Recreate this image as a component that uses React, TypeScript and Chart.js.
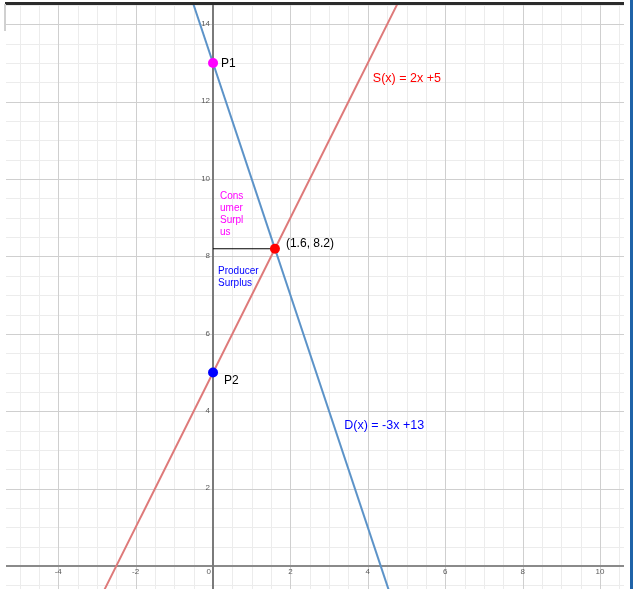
import { useEffect, useRef } from "react";
import { Chart, registerables } from "chart.js";

Chart.register(...registerables);

// Supply S(x) = 2x + 5, given by two points on the line
const supplyX = [-4, 6];
const supplyY = [-3, 17];

// Demand D(x) = -3x + 13, given by two points on the line
const demandX = [-1, 5];
const demandY = [16, -2];

// Marked points: P1, P2 and the equilibrium
const markX = [0, 0, 1.6];
const markY = [13, 5, 8.2];
const markColors = ["#ff00ff", "#0000ff", "#ff0000"];

// Horizontal segment from the price axis to the equilibrium
const priceLineX = [0, 1.6];
const priceLineY = [8.2, 8.2];

// Axis tick labels
const xTickValues = [-4, -2, 0, 2, 4, 6, 8, 10];
const yTickValues = [2, 4, 6, 8, 10, 12, 14];

const X_MIN = -5.35;
const X_MAX = 10.62;
const Y_MIN = -0.594;
const Y_MAX = 14.5;

type Note = {
  lines: string[];
  x: number;
  y: number;
  dx: number;
  dy: number;
  color: string;
  size: number;
  lineHeight: number;
};

const notes: Note[] = [
  { lines: ["P1"], x: markX[0], y: markY[0], dx: 8, dy: 1, color: "#000000", size: 12, lineHeight: 12 },
  { lines: ["P2"], x: markX[1], y: markY[1], dx: 11, dy: 8, color: "#000000", size: 12, lineHeight: 12 },
  { lines: ["(1.6, 8.2)"], x: markX[2], y: markY[2], dx: 11, dy: -5, color: "#000000", size: 12, lineHeight: 12 },
  { lines: ["S(x) = 2x +5"], x: 4.13, y: 12.61, dx: 0, dy: 0, color: "#ff0000", size: 12.5, lineHeight: 12 },
  { lines: ["D(x) = -3x +13"], x: 3.39, y: 3.62, dx: 0, dy: 0, color: "#0000ff", size: 12.5, lineHeight: 12 },
  { lines: ["Cons", "umer", "Surpl", "us"], x: 0.18, y: 9.56, dx: 0, dy: 0, color: "#ff00ff", size: 10, lineHeight: 12 },
  { lines: ["Producer", "Surplus"], x: 0.13, y: 7.62, dx: 0, dy: 0, color: "#0000ff", size: 10, lineHeight: 12 },
];

const FONT = '"Liberation Sans", Arial, Helvetica, sans-serif';

const gridPlugin = {
  id: "graphPaper",
  beforeDatasetsDraw(chart: any) {
    const { ctx, chartArea: a, scales } = chart;
    const xs = scales.x;
    const ys = scales.y;
    ctx.save();
    ctx.beginPath();
    ctx.rect(a.left, a.top, a.right - a.left, a.bottom - a.top);
    ctx.clip();

    const drawV = (v: number, color: string, w: number) => {
      const p = Math.round(xs.getPixelForValue(v)) + (w % 2 === 1 ? 0.5 : 0);
      ctx.strokeStyle = color;
      ctx.lineWidth = w;
      ctx.beginPath();
      ctx.moveTo(p, a.top);
      ctx.lineTo(p, a.bottom);
      ctx.stroke();
    };
    const drawH = (v: number, color: string, w: number) => {
      const p = Math.round(ys.getPixelForValue(v)) + (w % 2 === 1 ? 0.5 : 0);
      ctx.strokeStyle = color;
      ctx.lineWidth = w;
      ctx.beginPath();
      ctx.moveTo(a.left, p);
      ctx.lineTo(a.right, p);
      ctx.stroke();
    };

    // minor lines every 0.5
    for (let i = Math.ceil(X_MIN * 2); i <= Math.floor(X_MAX * 2); i++) {
      if (i % 4 !== 0) drawV(i / 2, "#ececec", 1);
    }
    for (let i = Math.ceil(Y_MIN * 2); i <= Math.floor(Y_MAX * 2); i++) {
      if (i % 4 !== 0) drawH(i / 2, "#ececec", 1);
    }
    // major lines every 2
    for (let i = Math.ceil(X_MIN / 2); i <= Math.floor(X_MAX / 2); i++) {
      if (i !== 0) drawV(i * 2, "#cfcfcf", 1);
    }
    for (let i = Math.ceil(Y_MIN / 2); i <= Math.floor(Y_MAX / 2); i++) {
      if (i !== 0) drawH(i * 2, "#cfcfcf", 1);
    }
    // axes
    drawH(0, "#8a8a8a", 2);
    drawV(0, "#7a7a7a", 2);
    ctx.restore();

    // tick labels
    ctx.save();
    ctx.font = `8px ${FONT}`;
    ctx.fillStyle = "#5a5a5a";
    const x0 = xs.getPixelForValue(0);
    const y0 = ys.getPixelForValue(0);
    ctx.textBaseline = "middle";
    for (const v of xTickValues) {
      const px = xs.getPixelForValue(v);
      if (v === 0) {
        ctx.textAlign = "right";
        ctx.fillText("0", px - 2, y0 + 6);
      } else {
        ctx.textAlign = "center";
        ctx.fillText(String(v), px, y0 + 6);
      }
    }
    ctx.textAlign = "right";
    for (const v of yTickValues) {
      ctx.fillText(String(v), x0 - 3, ys.getPixelForValue(v) - 0.5);
    }
    ctx.restore();
  },
};

const notesPlugin = {
  id: "notes",
  afterDatasetsDraw(chart: any) {
    const { ctx, scales } = chart;
    ctx.save();
    ctx.textAlign = "left";
    ctx.textBaseline = "middle";
    for (const n of notes) {
      const px = scales.x.getPixelForValue(n.x) + n.dx;
      const py = scales.y.getPixelForValue(n.y) + n.dy;
      ctx.font = `${n.size}px ${FONT}`;
      ctx.fillStyle = n.color;
      n.lines.forEach((t, i) => ctx.fillText(t, px, py + i * n.lineHeight));
    }
    ctx.restore();
  },
};

const framePlugin = {
  id: "frame",
  afterDraw(chart: any) {
    const { ctx, chartArea: a } = chart;
    ctx.save();
    ctx.fillStyle = "#2b2b2b";
    ctx.fillRect(a.left - 1, 2, a.right - a.left + 1, 3);
    ctx.fillStyle = "#d0d0d0";
    ctx.fillRect(a.left - 2, 4, 2, 27);
    ctx.fillStyle = "#1f63a8";
    ctx.fillRect(630, 0, 3, chart.height);
    ctx.restore();
  },
};

export default function App() {
  const canvasRef = useRef<HTMLCanvasElement | null>(null);

  useEffect(() => {
    const canvas = canvasRef.current;
    if (!canvas) return;
    const toPts = (xs: number[], ys: number[]) => xs.map((x, i) => ({ x, y: ys[i] }));

    const chart = new Chart(canvas, {
      type: "scatter",
      data: {
        datasets: [
          {
            type: "scatter",
            label: "points",
            data: toPts(markX, markY),
            backgroundColor: markColors,
            borderWidth: 0,
            pointRadius: 5,
            order: 0,
          },
          {
            type: "line",
            label: "price",
            data: toPts(priceLineX, priceLineY),
            borderColor: "#000000",
            borderWidth: 1,
            pointRadius: 0,
            order: 1,
          },
          {
            type: "line",
            label: "S(x)",
            data: toPts(supplyX, supplyY),
            borderColor: "#de7a7a",
            borderWidth: 2,
            pointRadius: 0,
            order: 2,
          },
          {
            type: "line",
            label: "D(x)",
            data: toPts(demandX, demandY),
            borderColor: "#5c93c8",
            borderWidth: 2,
            pointRadius: 0,
            order: 3,
          },
        ],
      },
      options: {
        animation: false,
        responsive: false,
        devicePixelRatio: 1,
        layout: { autoPadding: false, padding: { left: 6, right: 9, top: 5, bottom: 0 } },
        plugins: { legend: { display: false }, tooltip: { enabled: false } },
        events: [],
        scales: {
          x: { type: "linear", min: X_MIN, max: X_MAX, display: false },
          y: { type: "linear", min: Y_MIN, max: Y_MAX, display: false },
        },
      },
      plugins: [gridPlugin, notesPlugin, framePlugin],
    });
    return () => chart.destroy();
  }, []);

  return (
    <div style={{ position: "fixed", left: 0, top: 0, width: 633, height: 589, background: "#ffffff" }}>
      <canvas ref={canvasRef} width={633} height={589} style={{ display: "block", width: 633, height: 589 }} />
    </div>
  );
}
